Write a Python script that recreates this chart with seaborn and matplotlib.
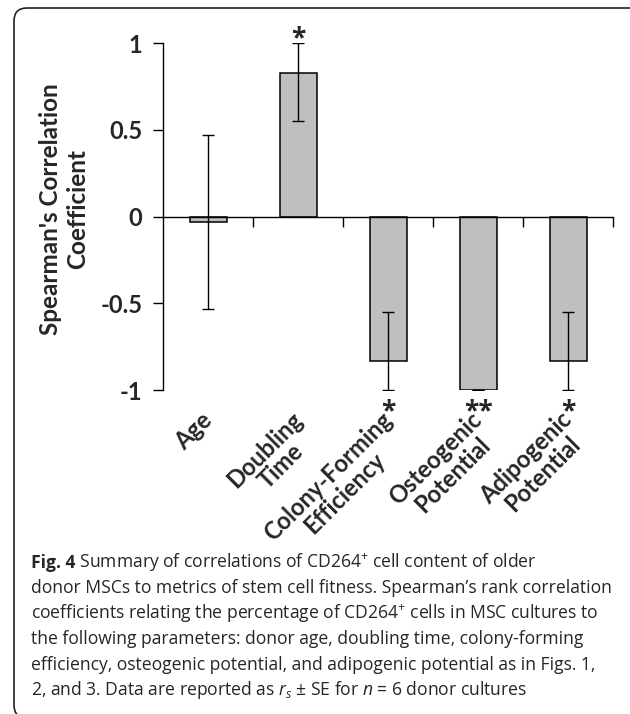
import numpy as np
import pandas as pd
import matplotlib
matplotlib.use("Agg")
import matplotlib.pyplot as plt
import seaborn as sns
from matplotlib.patches import FancyBboxPatch
from matplotlib.transforms import IdentityTransform

# ---------------- data ----------------
categories = ["Age", "Doubling\nTime", "Colony-Forming\nEfficiency",
              "Osteogenic\nPotential", "Adipogenic\nPotential"]
rs_values = [-0.03, 0.83, -0.83, -1.0, -0.83]
err_lower = [0.50, 0.28, 0.17, 0.0, 0.17]
err_upper = [0.50, 0.17, 0.28, 0.0, 0.28]
significance = ["", "*", "*", "**", "*"]
y_ticks = [1, 0.5, 0, -0.5, -1]
y_tick_labels = ["1", "0.5", "0", "-0.5", "-1"]
y_label = "Spearman's Correlation\nCoefficient"
caption_head = "Fig. 4"
caption_lines = [
    r" Summary of correlations of CD264$^{+}$ cell content of older",
    "donor MSCs to metrics of stem cell fitness. Spearman\u2019s rank correlation",
    r"coefficients relating the percentage of CD264$^{+}$ cells in MSC cultures to",
    "the following parameters: donor age, doubling time, colony-forming",
    "efficiency, osteogenic potential, and adipogenic potential as in Figs. 1,",
    r"2, and 3. Data are reported as $r_s$ $\pm$ SE for $n$ = 6 donor cultures",
]

df = pd.DataFrame({"category": categories, "rs": rs_values})

# ---------------- style ----------------
sns.set_style("ticks")
plt.rcParams["font.family"] = ["Lato", "DejaVu Sans"]
plt.rcParams["axes.unicode_minus"] = False
plt.rcParams["mathtext.fontset"] = "custom"
plt.rcParams["mathtext.rm"] = "Open Sans"
plt.rcParams["mathtext.it"] = "Open Sans:italic"
plt.rcParams["mathtext.bf"] = "Open Sans:bold"

W, H = 630, 714
fig = plt.figure(figsize=(W / 100, H / 100), dpi=100)
ax = fig.add_axes([163.3 / W, 1 - 390 / H, 450 / W, 346.7 / H])

sns.barplot(data=df, x="category", y="rs", color="#bfbfbf", saturation=1,
            edgecolor="black", linewidth=1.1, width=0.41, errorbar=None, ax=ax)
ax.errorbar(x=np.arange(len(rs_values)), y=rs_values, yerr=[err_lower, err_upper],
            fmt="none", ecolor="black", elinewidth=1.0, capsize=4.5, capthick=1.0,
            zorder=5)

ax.set_xlim(-0.5, len(categories) - 0.5)
ax.set_ylim(-1, 1)
ax.set_xlabel("")
ax.set_ylabel("")
for s in ["top", "right"]:
    ax.spines[s].set_visible(False)
ax.spines["bottom"].set_position(("data", 0))
for s in ["left", "bottom"]:
    ax.spines[s].set_linewidth(1.0)
    ax.spines[s].set_color("black")

ax.set_xticks(np.arange(len(categories)) + 0.5)
ax.set_xticklabels([])
ax.tick_params(axis="x", direction="out", length=7, width=1.0, color="black")
ax.set_yticks(y_ticks)
ax.set_yticklabels(y_tick_labels, fontsize=17, fontweight="bold")
ax.tick_params(axis="y", direction="out", length=7, width=1.0, color="black", pad=8)

# category labels (rotated)
for i, lab in enumerate(categories):
    ax.annotate(lab, xy=(i, -1), xycoords="data", xytext=(-8, -18),
                textcoords="offset pixels", rotation=45, rotation_mode="anchor",
                ha="right", va="top", multialignment="center", fontsize=17,
                fontweight="bold", linespacing=1.0, annotation_clip=False)

# significance stars
for i, (v, s) in enumerate(zip(rs_values, significance)):
    if not s:
        continue
    y = 0.984 if v > 0 else -1.167
    ax.text(i, y, s, ha="center", va="baseline", fontsize=19, fontweight="bold",
            family="Open Sans", clip_on=False)

# y label
fig.text(64 / W, 1 - 209 / H, y_label, rotation=90, ha="center", va="center",
         fontsize=17.5, fontweight="bold", multialignment="center", linespacing=1.25)

# caption, fitted to the reference line width
renderer = fig.canvas.get_renderer()
probe = fig.text(0, 0, caption_lines[1], fontsize=14, family="Open Sans")
w = probe.get_window_extent(renderer).width
probe.remove()
cap_fs = 14 * 584 / w
baselines = [568, 593, 619, 644, 670, 695]
x0 = 31
head = fig.text(x0 / W, 1 - baselines[0] / H, caption_head, fontsize=cap_fs,
                family="Open Sans", fontweight="bold", color="#262626",
                ha="left", va="baseline")
head_w = head.get_window_extent(renderer).width
for k, (line, b) in enumerate(zip(caption_lines, baselines)):
    x = x0 + (head_w if k == 0 else 0)
    fig.text(x / W, 1 - b / H, line, fontsize=cap_fs, family="Open Sans",
             color="#262626", ha="left", va="baseline")

# rounded frame
frame = FancyBboxPatch((14, -4), 660, 710, boxstyle="round,pad=0,rounding_size=13",
                       transform=IdentityTransform(), fill=False, edgecolor="#222222",
                       linewidth=1.2)
fig.add_artist(frame)

fig.savefig("out.png", dpi=100)
